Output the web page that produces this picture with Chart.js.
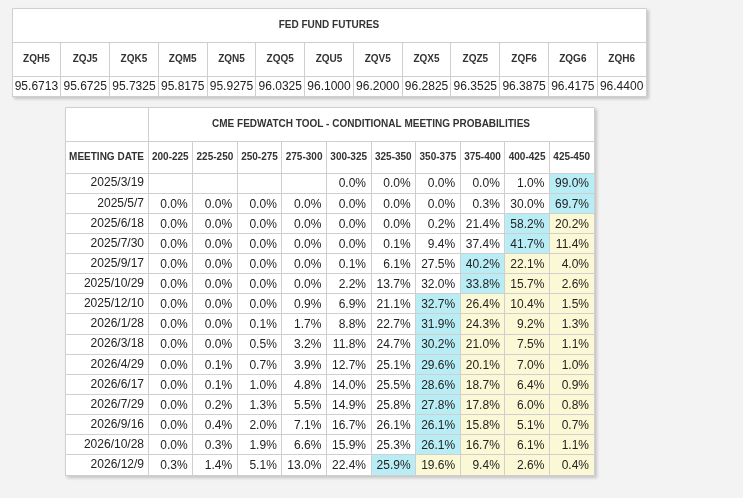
<!DOCTYPE html>
<html>
<head>
<meta charset="utf-8">
<script src="https://cdn.jsdelivr.net/npm/chart.js@4"></script>
<style>
body { margin: 0; background: #f3f3f3; width: 743px; height: 498px; overflow: hidden; }
.box { position: absolute; background: #fff; box-shadow: 2px 2px 3px rgba(0, 0, 0, 0.2); }
#futuresBox { left: 12px; top: 8px; width: 635px; height: 89px; }
#probsBox { left: 65px; top: 107px; width: 530px; height: 369px; }
canvas { display: block; }
</style>
</head>
<body>
<div class="box" id="futuresBox"><canvas id="futures"></canvas></div>
<div class="box" id="probsBox"><canvas id="probs"></canvas></div>
<script>
// fed fund futures
const contracts = ['ZQH5', 'ZQJ5', 'ZQK5', 'ZQM5', 'ZQN5', 'ZQQ5', 'ZQU5', 'ZQV5', 'ZQX5', 'ZQZ5', 'ZQF6', 'ZQG6', 'ZQH6'];
const futurePrices = [95.6713, 95.6725, 95.7325, 95.8175, 95.9275, 96.0325, 96.1000, 96.2000, 96.2825, 96.3525, 96.3875, 96.4175, 96.4400];

// fedwatch conditional probabilities, one array per target range (in %)
const meetingDates = ['2025/3/19', '2025/5/7', '2025/6/18', '2025/7/30', '2025/9/17', '2025/10/29', '2025/12/10',
    '2026/1/28', '2026/3/18', '2026/4/29', '2026/6/17', '2026/7/29', '2026/9/16', '2026/10/28', '2026/12/9'];
const rateRanges = ['200-225', '225-250', '250-275', '275-300', '300-325', '325-350', '350-375', '375-400', '400-425', '425-450'];
const r200_225 = [null, 0.0, 0.0, 0.0, 0.0, 0.0, 0.0, 0.0, 0.0, 0.0, 0.0, 0.0, 0.0, 0.0, 0.3];
const r225_250 = [null, 0.0, 0.0, 0.0, 0.0, 0.0, 0.0, 0.0, 0.0, 0.1, 0.1, 0.2, 0.4, 0.3, 1.4];
const r250_275 = [null, 0.0, 0.0, 0.0, 0.0, 0.0, 0.0, 0.1, 0.5, 0.7, 1.0, 1.3, 2.0, 1.9, 5.1];
const r275_300 = [null, 0.0, 0.0, 0.0, 0.0, 0.0, 0.9, 1.7, 3.2, 3.9, 4.8, 5.5, 7.1, 6.6, 13.0];
const r300_325 = [0.0, 0.0, 0.0, 0.0, 0.1, 2.2, 6.9, 8.8, 11.8, 12.7, 14.0, 14.9, 16.7, 15.9, 22.4];
const r325_350 = [0.0, 0.0, 0.0, 0.1, 6.1, 13.7, 21.1, 22.7, 24.7, 25.1, 25.5, 25.8, 26.1, 25.3, 25.9];
const r350_375 = [0.0, 0.0, 0.2, 9.4, 27.5, 32.0, 32.7, 31.9, 30.2, 29.6, 28.6, 27.8, 26.1, 26.1, 19.6];
const r375_400 = [0.0, 0.3, 21.4, 37.4, 40.2, 33.8, 26.4, 24.3, 21.0, 20.1, 18.7, 17.8, 15.8, 16.7, 9.4];
const r400_425 = [1.0, 30.0, 58.2, 41.7, 22.1, 15.7, 10.4, 9.2, 7.5, 7.0, 6.4, 6.0, 5.1, 6.1, 2.6];
const r425_450 = [99.0, 69.7, 20.2, 11.4, 4.0, 2.6, 1.5, 1.3, 1.1, 1.0, 0.9, 0.8, 0.7, 1.1, 0.4];
const probColumns = [r200_225, r225_250, r250_275, r275_300, r300_325, r325_350, r350_375, r375_400, r400_425, r425_450];

const FONT = '"Liberation Sans", Arial, sans-serif';
const LINE = '#cfcfcf';
const CYAN = '#b9edf6';
const YELLOW = '#fbf9d5';

Chart.defaults.font.family = FONT;
Chart.defaults.color = '#333';

//most likely range per meeting (rightmost on a tie), cells above it are yellow
const peakIndex = meetingDates.map((d, r) => {
    let best = -1, bestVal = -1;
    probColumns.forEach((col, c) => {
        if (col[r] != null && col[r] >= bestVal) { best = c; bestVal = col[r]; }
    });
    return best;
});

function cellColor(r, c) {
    if (c === peakIndex[r]) return CYAN;
    if (c > peakIndex[r]) return YELLOW;
    return '#fff';
}

//white table, outer border, title row line and the stub column of the header
const tableFrame = {
    id: 'tableFrame',
    beforeDraw(chart) {
        const {ctx, width, height} = chart;
        ctx.save();
        ctx.fillStyle = '#fff';
        ctx.fillRect(0, 0, width, height);
        ctx.restore();
    },
    afterDraw(chart, args, opts) {
        const {ctx, chartArea} = chart;
        const head = chart.scales.cols;
        ctx.save();
        ctx.strokeStyle = LINE;
        ctx.lineWidth = 1;
        ctx.beginPath();
        ctx.rect(0.5, 0.5, chartArea.right, chartArea.bottom);
        ctx.moveTo(0, head.top + 0.5);
        ctx.lineTo(chartArea.right, head.top + 0.5);
        if (chartArea.left > 0) {
            ctx.moveTo(chartArea.left + 0.5, 0);
            ctx.lineTo(chartArea.left + 0.5, chartArea.top);
        }
        ctx.stroke();
        if (opts.stub) {
            ctx.font = 'bold 10px ' + FONT;
            ctx.fillStyle = '#333';
            ctx.textAlign = 'center';
            ctx.textBaseline = 'middle';
            ctx.fillText(opts.stub, chartArea.left / 2, (head.top + head.bottom) / 2);
        }
        ctx.restore();
    }
};

//cell values, placed with the x / y scales
const cellText = {
    id: 'cellText',
    afterDatasetsDraw(chart, args, opts) {
        const {ctx} = chart;
        const x = chart.scales.x, y = chart.scales.y;
        ctx.save();
        ctx.font = '12px ' + FONT;
        ctx.fillStyle = '#222';
        ctx.textAlign = opts.align;
        ctx.textBaseline = 'middle';
        chart.data.datasets.forEach((ds, c) => {
            ds.values.forEach((v, r) => {
                if (v == null) return;
                const px = opts.align === 'right' ? x.getPixelForValue(c + 1) - 5 : x.getPixelForValue(c + 0.5);
                ctx.fillText(opts.format(v), px, y.getPixelForValue(r) + 1);
            });
        });
        ctx.restore();
    }
};

function tableOptions(title, headLabels, headHeight, yScale, cellOpts, stub) {
    return {
        indexAxis: 'y',
        responsive: true,
        maintainAspectRatio: false,
        animation: false,
        events: [],
        layout: { padding: { right: 1, bottom: 1 } },
        scales: {
            x: { type: 'linear', min: 0, max: headLabels.length, display: false },
            cols: {
                type: 'category', labels: headLabels, position: 'top', offset: true,
                grid: { offset: true, color: LINE, z: 1, tickLength: headHeight },
                border: { color: LINE, z: 1 },
                ticks: { padding: headHeight / 2 - 6 - headHeight, maxRotation: 0, autoSkip: false, color: '#333',
                    font: { size: 10, weight: 'bold' } },
                afterFit: s => { s.height = headHeight; }
            },
            y: yScale
        },
        plugins: {
            legend: { display: false },
            tooltip: { enabled: false },
            title: { display: true, text: title, fullSize: false, color: '#333',
                font: { size: 10, weight: 'bold' }, padding: { top: 11, bottom: 11 } },
            cellText: cellOpts,
            tableFrame: { stub: stub }
        }
    };
}

new Chart(document.getElementById('futures'), {
    type: 'bar',
    data: {
        labels: ['Price'],
        datasets: contracts.map((name, c) => ({
            label: name,
            data: [[c, c + 1]],
            values: [futurePrices[c]],
            backgroundColor: '#fff',
            borderWidth: 0, grouped: false, barPercentage: 1, categoryPercentage: 1,
            xAxisID: 'x', yAxisID: 'y'
        }))
    },
    options: tableOptions('FED FUND FUTURES', contracts, 34, {
        type: 'category', offset: true,
        grid: { offset: true, color: LINE, z: 1, drawTicks: false },
        border: { color: LINE, z: 1 },
        ticks: { display: false },
        afterFit: s => { s.width = 0; }
    }, { align: 'center', format: v => v.toFixed(4) }, ''),
    plugins: [tableFrame, cellText]
});

new Chart(document.getElementById('probs'), {
    type: 'bar',
    data: {
        labels: meetingDates,
        datasets: probColumns.map((col, c) => ({
            label: rateRanges[c],
            data: col.map(() => [c, c + 1]),
            values: col,
            backgroundColor: col.map((v, r) => cellColor(r, c)),
            borderWidth: 0, grouped: false, barPercentage: 1, categoryPercentage: 1,
            xAxisID: 'x', yAxisID: 'y'
        }))
    },
    options: tableOptions('CME FEDWATCH TOOL - CONDITIONAL MEETING PROBABILITIES', rateRanges, 32, {
        type: 'category', offset: true,
        grid: { offset: true, color: LINE, z: 1, tickLength: 83 },
        border: { color: LINE, z: 1 },
        ticks: { padding: 4 - 83, color: '#222', font: { size: 12 }, autoSkip: false },
        afterFit: s => { s.width = 83; }
    }, { align: 'right', format: v => v.toFixed(1) + '%' }, 'MEETING DATE'),
    plugins: [tableFrame, cellText]
});
</script>
</body>
</html>
